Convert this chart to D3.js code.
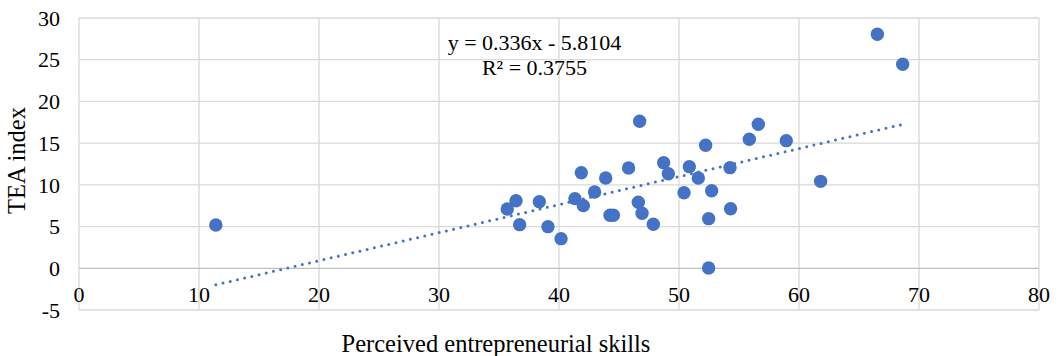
<!DOCTYPE html>
<html><head><meta charset="utf-8">
<script src="https://cdn.jsdelivr.net/npm/d3@7"></script>
<style>body{margin:0;background:#fff}svg{display:block}text{font-family:"Liberation Serif","Times New Roman",serif;fill:#000}</style>
</head><body><svg id="c" width="1059" height="356"></svg>
<script>
const skills = [11.4,35.69,36.42,36.72,38.36,39.08,40.17,41.33,42.03,41.86,42.97,43.89,44.25,44.53,45.8,46.72,46.61,46.92,47.86,48.72,49.11,50.42,50.86,51.61,52.22,52.47,52.72,52.47,54.25,54.3,55.86,56.61,58.94,61.8,66.53,68.64];
const tea    = [5.19,7.11,8.10,5.23,7.98,4.99,3.55,8.35,7.51,11.46,9.15,10.82,6.35,6.35,12.02,17.62,7.91,6.59,5.27,12.66,11.34,9.06,12.18,10.82,14.74,5.95,9.30,0.04,12.06,7.14,15.46,17.26,15.3,10.42,28.05,24.45];
const xTicks = [0,10,20,30,40,50,60,70,80];
const yTicks = [-5,0,5,10,15,20,25,30];
const trendCoef = [0.336,-5.8104];
const eqLines = ["y = 0.336x - 5.8104","R² = 0.3755"];
const xTitle = "Perceived entrepreneurial skills";
const yTitle = "TEA index";

const svg = d3.select("#c");
const x = d3.scaleLinear().domain([0,80]).range([79,1039]);
const y = d3.scaleLinear().domain([-5,30]).range([310,18]);
const blue = "#4472C4";

// gridlines
svg.append("g").selectAll("line").data(xTicks).join("line")
  .attr("x1",d=>x(d)).attr("x2",d=>x(d)).attr("y1",y(30)).attr("y2",y(-5))
  .attr("stroke","#d9d9d9").attr("stroke-width",1.3);
svg.append("g").selectAll("line").data(yTicks).join("line")
  .attr("y1",d=>y(d)).attr("y2",d=>y(d)).attr("x1",x(0)).attr("x2",x(80))
  .attr("stroke",d=>d===0?"#bfbfbf":"#d9d9d9").attr("stroke-width",1.3);

// y tick labels
svg.append("g").selectAll("text").data(yTicks).join("text")
  .attr("x",60).attr("y",d=>y(d)+7.7).attr("text-anchor","end")
  .attr("font-size",22).text(d=>d);
// x tick labels
svg.append("g").selectAll("text").data(xTicks).join("text")
  .attr("x",d=>x(d)).attr("y",y(0)+33.3).attr("text-anchor","middle")
  .attr("font-size",22).text(d=>d);

// trendline
const xs = [d3.min(skills), d3.max(skills)];
svg.append("line")
  .attr("x1",x(xs[0])).attr("y1",y(trendCoef[0]*xs[0]+trendCoef[1]))
  .attr("x2",x(xs[1])).attr("y2",y(trendCoef[0]*xs[1]+trendCoef[1]))
  .attr("stroke",blue).attr("stroke-width",3).attr("stroke-linecap","round")
  .attr("stroke-dasharray","0 7.4");

// points
svg.append("g").selectAll("circle").data(skills.map((s,i)=>[s,tea[i]])).join("circle")
  .attr("cx",d=>x(d[0])).attr("cy",d=>y(d[1])).attr("r",6.7).attr("fill",blue);

// equation
svg.append("g").selectAll("text").data(eqLines).join("text")
  .attr("x",534.5).attr("y",(d,i)=>50+i*25).attr("text-anchor","middle")
  .attr("font-size",22).text(d=>d);

// axis titles
svg.append("text").attr("x",496).attr("y",352.3).attr("text-anchor","middle")
  .attr("font-size",24.5).text(xTitle);
svg.append("text").attr("transform","translate(25,160.5) rotate(-90)").attr("text-anchor","middle")
  .attr("font-size",24.5).text(yTitle);
</script></body></html>
